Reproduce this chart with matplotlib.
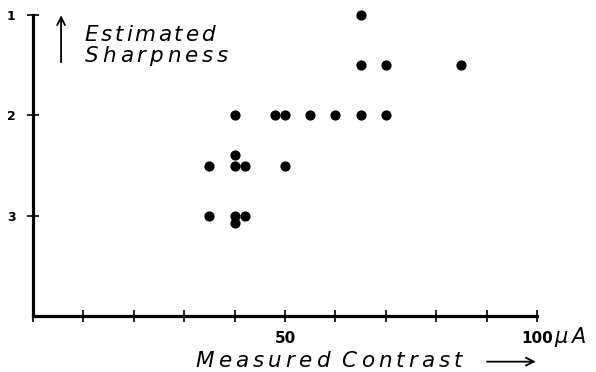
import matplotlib as mpl
mpl.use('Agg')
import matplotlib.pyplot as plt
from matplotlib.transforms import offset_copy

# measured contrast (uA) and estimated sharpness
contrast = [35, 35, 40, 40, 40, 42, 40, 40, 42, 48, 50, 50,
            55, 60, 65, 70, 65, 65, 70, 85]
sharpness = [2.5, 3.0, 2.0, 2.4, 2.5, 2.5, 3.0, 3.07, 3.0, 2.0, 2.0, 2.5,
             2.0, 2.0, 2.0, 2.0, 1.0, 1.5, 1.5, 1.5]

x_ticks = list(range(0, 101, 10))
x_labels = ['', '', '', '', '', '50', '', '', '', '', '100']
y_ticks = [1, 2, 3]
y_labels = ['1', '2', '3']

fig = plt.figure(figsize=(5.96, 3.72), dpi=100)
ax = fig.add_axes([33 / 596, 56 / 372, 504 / 596, 301 / 372])
renderer = fig.canvas.get_renderer()


def spaced_text(x, y, s, size, gap, word_gap):
    # hand lettering look: characters set one by one with extra spacing
    dx = 0.0
    for word in s.split(' '):
        for ch in word:
            tr = offset_copy(ax.transData, fig=fig, x=dx, y=0, units='dots')
            t = ax.text(x, y, ch, fontsize=size, style='italic', ha='left',
                        va='baseline', transform=tr, clip_on=False)
            dx += t.get_window_extent(renderer).width + gap
        dx += word_gap


ax.scatter(contrast, sharpness, s=40, color='black', zorder=3, clip_on=False)

ax.set_xlim(0, 100)
ax.set_ylim(4, 1)
ax.spines['top'].set_visible(False)
ax.spines['right'].set_visible(False)
ax.spines['left'].set_linewidth(2.3)
ax.spines['bottom'].set_linewidth(2.3)

ax.set_xticks(x_ticks)
ax.set_xticklabels(x_labels, fontsize=11, fontweight='bold')
ax.set_yticks(y_ticks)
ax.set_yticklabels(y_labels, fontsize=9, fontweight='bold')
ax.tick_params(direction='inout', length=9, width=1.2)
ax.tick_params(axis='x', pad=6)
ax.tick_params(axis='y', pad=8)

# unit next to the last tick label
spaced_text(103.4, 4.27, 'μA', 15, 3.5, 0)

# axis captions with arrows
spaced_text(32.2, 4.508, 'Measured Contrast', 15.5, 4.1, 8)
ax.annotate('', xy=(100.3, 4.455), xytext=(89.5, 4.455),
            arrowprops=dict(arrowstyle='->', lw=1.3, color='black',
                            mutation_scale=14),
            annotation_clip=False)

spaced_text(10.3, 1.26, 'Estimated', 15.5, 2.6, 8)
spaced_text(10.3, 1.468, 'Sharpness', 15.5, 3.8, 8)
ax.annotate('', xy=(5.57, 0.975), xytext=(5.57, 1.5),
            arrowprops=dict(arrowstyle='->', lw=1.3, color='black',
                            mutation_scale=14),
            annotation_clip=False)

fig.savefig('out.png', dpi=100)
plt.close()
